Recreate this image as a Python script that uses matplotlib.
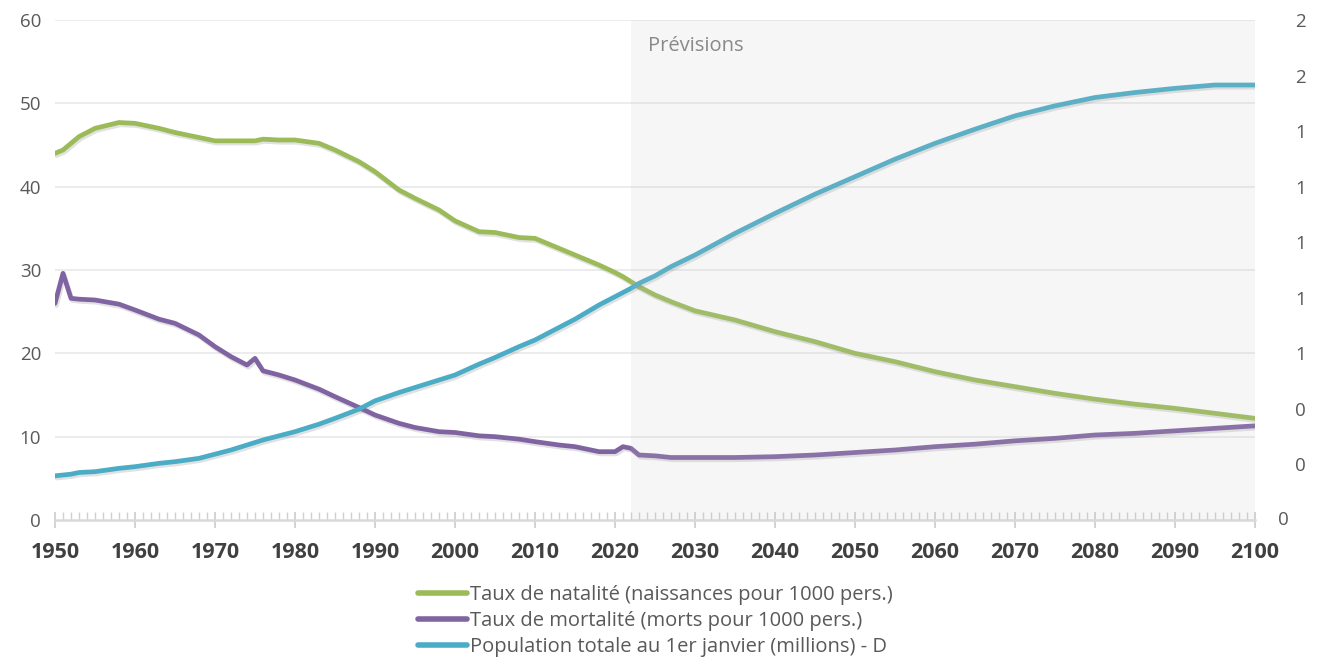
import matplotlib
matplotlib.use("Agg")
import matplotlib.pyplot as plt
import matplotlib.patheffects as pe
from matplotlib.ticker import MultipleLocator, FixedLocator, FuncFormatter

plt.rcParams['font.family'] = ['Open Sans', 'DejaVu Sans']

years = [1950, 1951, 1952, 1953, 1955, 1958, 1960, 1963, 1965, 1968, 1970, 1972,
         1974, 1975, 1976, 1978, 1980, 1983, 1985, 1988, 1990, 1993, 1995, 1998,
         2000, 2003, 2005, 2008, 2010, 2013, 2015, 2018, 2020, 2021, 2022, 2023,
         2025, 2027, 2030, 2035, 2040, 2045, 2050, 2055, 2060, 2065, 2070, 2075,
         2080, 2085, 2090, 2095, 2100]

birth_rate = [44.0, 44.4, 45.2, 46.0, 47.0, 47.7, 47.6, 47.0, 46.5, 45.9, 45.5, 45.5,
              45.5, 45.5, 45.7, 45.6, 45.6, 45.2, 44.4, 43.0, 41.8, 39.6, 38.6, 37.2,
              35.9, 34.6, 34.5, 33.9, 33.8, 32.6, 31.8, 30.6, 29.7, 29.2, 28.6, 28.0,
              27.0, 26.2, 25.1, 24.0, 22.6, 21.4, 20.0, 19.0, 17.8, 16.8, 16.0, 15.2,
              14.5, 13.9, 13.4, 12.8, 12.2]

death_rate = [26.0, 29.6, 26.6, 26.5, 26.4, 25.9, 25.2, 24.1, 23.6, 22.2, 20.8, 19.6,
              18.6, 19.4, 17.9, 17.4, 16.8, 15.7, 14.8, 13.5, 12.6, 11.6, 11.1, 10.6,
              10.5, 10.1, 10.0, 9.7, 9.4, 9.0, 8.8, 8.2, 8.2, 8.8, 8.6, 7.8,
              7.7, 7.5, 7.5, 7.5, 7.6, 7.8, 8.1, 8.4, 8.8, 9.1, 9.5, 9.8,
              10.2, 10.4, 10.7, 11.0, 11.3]

population = [0.159, 0.162, 0.165, 0.171, 0.174, 0.186, 0.192, 0.204, 0.210, 0.222, 0.237, 0.252,
              0.270, 0.279, 0.288, 0.303, 0.318, 0.345, 0.366, 0.399, 0.429, 0.459, 0.477, 0.504,
              0.522, 0.561, 0.585, 0.624, 0.648, 0.693, 0.723, 0.774, 0.804, 0.819, 0.834, 0.852,
              0.879, 0.912, 0.954, 1.032, 1.104, 1.173, 1.236, 1.299, 1.356, 1.407, 1.455, 1.491,
              1.521, 1.539, 1.554, 1.566, 1.566]

labels = ["Taux de natalité (naissances pour 1000 pers.)",
          "Taux de mortalité (morts pour 1000 pers.)",
          "Population totale au 1er janvier (millions) - D"]
colors = ["#9bbb59", "#8064a2", "#4bacc6"]
forecast_start = 2022
forecast_label = "Prévisions"

W, H = 1320, 664
fig = plt.figure(figsize=(W / 100, H / 100), dpi=100)
ax = fig.add_axes([55 / W, 1 - 520 / H, 1200 / W, 500 / H])
ax2 = ax.twinx()

ax.set_xlim(1950, 2100)
ax.set_ylim(0, 60)
ax2.set_ylim(0, 1.8)

shadow = [pe.SimpleLineShadow(offset=(1.0, -1.6), shadow_color='#777777', alpha=0.22),
          pe.Normal()]
lw = 3.4
l1, = ax.plot(years, birth_rate, color=colors[0], lw=lw, solid_capstyle='round',
              path_effects=shadow, zorder=3)
l2, = ax.plot(years, death_rate, color=colors[1], lw=lw, solid_capstyle='round',
              path_effects=shadow, zorder=3)
l3, = ax2.plot(years, population, color=colors[2], lw=lw, solid_capstyle='round',
               path_effects=shadow, zorder=3)

ax2.set_zorder(ax.get_zorder() + 1)
ax2.patch.set_visible(False)

# forecast shading (overlay)
ax2.axvspan(forecast_start, 2100, color='#c4c4c4', alpha=0.15, lw=0, zorder=5)
ax.text(2024.1, 56.9, forecast_label, color='#7f7f7f', fontsize=14.5, va='center', ha='left')

# grid
ax.yaxis.set_major_locator(MultipleLocator(10))
for v in range(10, 61, 10):
    ax.axhline(v, color='#ececec', lw=1.4, zorder=1)

for s in ['top', 'right', 'left']:
    ax.spines[s].set_visible(False)
    ax2.spines[s].set_visible(False)
ax2.spines['bottom'].set_visible(False)
ax.spines['bottom'].set_color('#d9d9d9')
ax.spines['bottom'].set_linewidth(1.8)

ax.xaxis.set_major_locator(MultipleLocator(10))
ax.xaxis.set_minor_locator(MultipleLocator(1))
ax.tick_params(axis='x', which='major', direction='inout', length=11, width=1.3,
               color='#d0d0d0', labelsize=15.5, labelcolor='#404040', pad=10)
ax.tick_params(axis='x', which='minor', direction='in', length=6, width=1.0,
               color='#d0d0d0')
for lab in ax.get_xticklabels():
    lab.set_fontweight('bold')

ax.tick_params(axis='y', length=0, labelsize=13.5, labelcolor='#595959', pad=10)

ax2.yaxis.set_major_locator(FixedLocator([0.2 * i for i in range(10)]))
ax2.yaxis.set_major_formatter(FuncFormatter(lambda v, p: '' if abs(v) < 1e-9 else '%.0f' % v))
ax2.tick_params(axis='y', length=0, labelsize=13.5, labelcolor='#595959', pad=29)
fig.text(1283 / W, 1 - 520 / H, '0', color='#595959', fontsize=13.5, ha='center', va='center')

leg = fig.legend([l1, l2, l3], labels, loc='upper left', bbox_to_anchor=(418 / W, 1 - 585 / H),
                 frameon=False, fontsize=14.5, handlelength=2.45, handletextpad=0.12,
                 labelspacing=0.3, borderaxespad=0, borderpad=0)
for t in leg.get_texts():
    t.set_color('#595959')
for h in leg.legend_handles:
    h.set_linewidth(4)
    h.set_solid_capstyle('round')
    h.set_path_effects([])

fig.savefig('out.png', dpi=100)
